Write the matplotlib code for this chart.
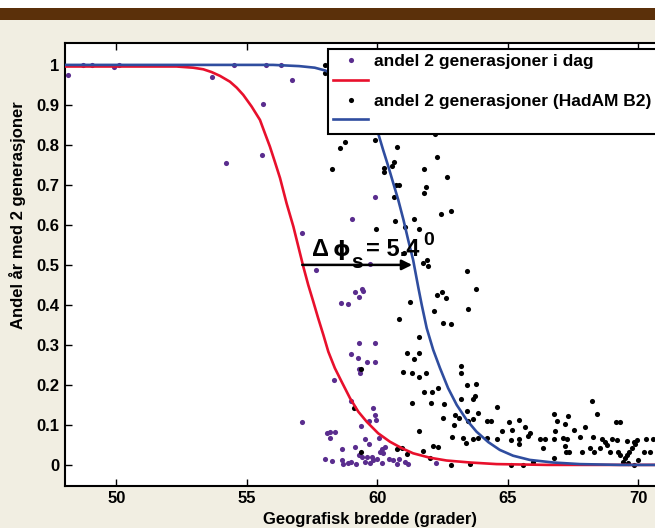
import matplotlib
matplotlib.use("Agg")
import matplotlib.pyplot as plt
from matplotlib.lines import Line2D
from matplotlib.patches import Rectangle

plt.rcParams['font.family'] = ['Liberation Sans', 'DejaVu Sans']
plt.rcParams['font.weight'] = 'bold'

# ---------------- data ----------------
today_x = [48.16, 48.72, 49.06, 49.92, 50.08, 53.66, 54.49, 54.18, 55.61, 55.57, 55.73, 56.30,
           56.74, 57.12, 57.64, 59.89, 59.02, 59.72, 59.41, 59.15, 59.43, 59.31, 58.61, 58.89,
           59.31, 59.89, 59.00, 59.24, 59.62, 59.92, 59.31, 59.34, 58.34, 59.00, 57.11, 59.85,
           59.89, 59.95, 59.66, 59.38, 58.07, 58.19, 58.38, 58.19, 59.51, 59.66, 60.06, 58.65,
           59.15, 60.17, 60.30, 60.11, 58.00, 58.28, 58.65, 58.69, 58.89, 59.00, 59.19, 59.28,
           59.41, 59.62, 59.79, 59.53, 59.70, 59.85, 59.98, 60.19, 60.23, 60.45, 60.59, 60.77,
           60.81, 61.07, 61.17, 62.24]
today_y = [0.976, 1.0, 1.0, 0.994, 1.0, 0.971, 1.0, 0.754, 0.9025, 0.775, 1.0, 1.0,
           0.963, 0.58, 0.488, 0.669, 0.615, 0.502, 0.439, 0.432, 0.436, 0.419, 0.406, 0.403,
           0.304, 0.304, 0.278, 0.267, 0.257, 0.257, 0.239, 0.231, 0.2125, 0.161, 0.108, 0.142,
           0.125, 0.113, 0.111, 0.0975, 0.079, 0.083, 0.083, 0.067, 0.065, 0.0525, 0.067, 0.041,
           0.045, 0.04, 0.045, 0.033, 0.015, 0.011, 0.013, 0.002, 0.004, 0.008, 0.0025, 0.025,
           0.021, 0.021, 0.021, 0.007, 0.004, 0.0125, 0.015, 0.004, 0.029, 0.015, 0.0125, 0.0025,
           0.015, 0.008, 0.0025, 0.006]

hadam_x = [58.00, 58.00, 58.77, 58.55, 58.26, 59.92, 60.75, 62.22, 62.28, 60.62, 60.56, 60.26,
           60.26, 61.77, 62.66, 60.72, 60.81, 61.86, 61.77, 60.62, 62.82, 62.43, 61.42, 60.69,
           59.93, 61.04, 61.58, 61.03, 61.73, 61.90, 61.94, 63.43, 63.79, 62.28, 62.49, 62.62,
           61.26, 62.18, 63.47, 60.81, 62.53, 62.82, 61.58, 61.14, 61.42, 61.58, 63.20, 63.20,
           61.00, 61.34, 61.86, 61.61, 59.37, 63.43, 63.77, 62.34, 61.77, 62.09, 63.75, 63.68,
           63.20, 61.31, 62.04, 62.57, 64.58, 59.11, 63.43, 63.85, 62.99, 62.53, 63.13, 63.49,
           64.22, 64.35, 63.68, 62.94, 65.06, 65.43, 66.77, 67.32, 68.24, 68.43, 66.90, 67.18,
           69.14, 69.30, 64.77, 65.15, 65.66, 65.83, 65.79, 66.81, 67.54, 67.96, 61.61, 62.85,
           63.30, 63.39, 63.66, 63.85, 64.20, 64.58, 65.12, 65.43, 65.44, 66.24, 66.43, 66.75,
           67.11, 67.26, 67.20, 66.36, 67.23, 67.36, 67.77, 67.86, 68.13, 68.28, 68.32, 68.54,
           68.61, 68.73, 68.80, 68.99, 68.92, 69.18, 69.24, 69.30, 69.56, 69.82, 69.94, 70.30,
           69.88, 69.75, 69.66, 69.56, 69.49, 69.43, 69.62, 70.00, 70.22, 70.45, 70.58, 69.82,
           59.38, 60.75, 60.94, 61.13, 61.73, 62.13, 62.32, 62.02, 62.82, 63.56, 65.12, 65.58,
           65.98, 66.75]
hadam_y = [1.0, 0.981, 0.808, 0.792, 0.74, 0.8125, 0.794, 0.827, 0.771, 0.758, 0.748, 0.743,
           0.7325, 0.74, 0.721, 0.70, 0.699, 0.696, 0.681, 0.669, 0.634, 0.6275, 0.616, 0.611,
           0.59, 0.594, 0.589, 0.529, 0.506, 0.5125, 0.498, 0.486, 0.44, 0.425, 0.432, 0.417,
           0.408, 0.385, 0.389, 0.366, 0.354, 0.352, 0.321, 0.281, 0.265, 0.279, 0.248, 0.229,
           0.233, 0.231, 0.229, 0.219, 0.24, 0.2, 0.202, 0.193, 0.183, 0.183, 0.1725, 0.165,
           0.165, 0.154, 0.154, 0.152, 0.144, 0.142, 0.135, 0.131, 0.125, 0.118, 0.118, 0.11,
           0.111, 0.111, 0.114, 0.1, 0.107, 0.112, 0.127, 0.123, 0.161, 0.128, 0.11, 0.102,
           0.108, 0.107, 0.086, 0.0875, 0.096, 0.081, 0.073, 0.086, 0.0875, 0.094, 0.086, 0.069,
           0.067, 0.054, 0.065, 0.067, 0.067, 0.065, 0.0625, 0.065, 0.052, 0.065, 0.065, 0.065,
           0.067, 0.065, 0.048, 0.042, 0.032, 0.032, 0.069, 0.032, 0.042, 0.071, 0.032, 0.043,
           0.064, 0.058, 0.05, 0.064, 0.033, 0.0625, 0.033, 0.025, 0.06, 0.058, 0.0625, 0.065,
           0.052, 0.042, 0.033, 0.025, 0.017, 0.008, 0.004, 0.0125, 0.033, 0.033, 0.065, 0.0,
           0.033, 0.04, 0.043, 0.027, 0.035, 0.048, 0.045, 0.017, 0.0, 0.0025, 0.0, 0.0,
           0.008, 0.018]

fit_today_x = [48.0, 52.3, 52.94, 53.33, 53.65, 53.97, 54.35, 54.61, 54.86, 55.18, 55.50, 55.69,
               55.88, 56.07, 56.27, 56.52, 56.78, 56.97, 57.16, 57.35, 57.54, 57.73, 57.93, 58.12,
               58.37, 58.63, 58.95, 59.27, 59.59, 60.03, 60.48, 60.93, 61.37, 62.01, 62.65, 63.55,
               64.57, 66.5, 72.0]
fit_today_y = [0.996, 0.996, 0.993, 0.989, 0.982, 0.9725, 0.958, 0.943, 0.925, 0.896, 0.8625, 0.829,
               0.796, 0.758, 0.717, 0.654, 0.596, 0.546, 0.496, 0.45, 0.409, 0.367, 0.325, 0.283,
               0.242, 0.208, 0.167, 0.133, 0.108, 0.079, 0.058, 0.042, 0.029, 0.018, 0.011, 0.006,
               0.002, 0.0, 0.0]

fit_hadam_x = [48.0, 56.0, 57.0, 57.6, 58.0, 58.6, 59.1, 59.6, 60.03, 60.22, 60.42, 60.61,
               60.80, 61.0, 61.18, 61.37, 61.57, 61.70, 61.89, 62.14, 62.40, 62.71, 63.04, 63.42,
               63.80, 64.25, 64.69, 65.20, 65.84, 66.74, 67.76, 69.3, 72.0]
fit_hadam_y = [1.0, 1.0, 0.997, 0.993, 0.986, 0.967, 0.94, 0.895, 0.829, 0.7875, 0.746, 0.704,
               0.6625, 0.6125, 0.5625, 0.5125, 0.443, 0.40, 0.342, 0.2875, 0.242, 0.192, 0.15, 0.1125,
               0.083, 0.057, 0.0375, 0.023, 0.0125, 0.006, 0.002, 0.0, 0.0]

x_ticks = [50, 55, 60, 65, 70]
y_ticks = [0, 0.1, 0.2, 0.3, 0.4, 0.5, 0.6, 0.7, 0.8, 0.9, 1.0]
y_ticklabels = ["0", "0.1", "0.2", "0.3", "0.4", "0.5", "0.6", "0.7", "0.8", "0.9", "1"]
legend_labels = ["andel 2 generasjoner i dag", "", "andel 2 generasjoner (HadAM B2)", ""]
shift_from, shift_to, shift_level = 57.12, 61.33, 0.5

# ---------------- style ----------------
W, H = 655, 528
bg = '#F1EEE2'
brown = '#5B300A'
purple = '#5A2D8E'
red = '#E8102C'
blue = '#2F4D9F'

fig = plt.figure(figsize=(W / 100, H / 100), dpi=100, facecolor=bg)
fig.patches.append(Rectangle((0, 1 - 8 / H), 1, 8 / H, transform=fig.transFigure,
                             facecolor='white', edgecolor='none', zorder=0))
fig.patches.append(Rectangle((0, 1 - 19.5 / H), 1, 11.5 / H, transform=fig.transFigure,
                             facecolor=brown, edgecolor='none', zorder=0))

left_px, right_px, top_px, bot_px = 65.3, 690.5, 43.3, 485.7
ax = fig.add_axes([left_px / W, 1 - bot_px / H, (right_px - left_px) / W, (bot_px - top_px) / H])
ax.set_facecolor('white')
ax.set_xlim(48.04, 72.0)
ax.set_ylim(-0.052, 1.054)

ms = 3.7
ax.plot(today_x, today_y, 'o', color=purple, ms=ms, mew=0, zorder=2)
ax.plot(hadam_x, hadam_y, 'o', color='black', ms=ms, mew=0, zorder=2)
ax.plot(fit_today_x, fit_today_y, '-', color=red, lw=1.9, zorder=3, solid_joinstyle='round')
ax.plot(fit_hadam_x, fit_hadam_y, '-', color=blue, lw=1.9, zorder=3, solid_joinstyle='round')

ax.annotate('', xy=(shift_to, shift_level), xytext=(shift_from, shift_level),
            arrowprops=dict(arrowstyle='-|>', color='black', lw=1.8, mutation_scale=15,
                            shrinkA=0, shrinkB=0), zorder=5)
# annotation text pieces: "Δ", "ϕ", subscript "s", "= 5.4", superscript "0"
ax.text(57.48, 0.5225, 'Δ', fontsize=17, fontweight='bold', va='baseline', ha='left', zorder=6)
ax.text(58.30, 0.5225, 'ϕ', fontsize=16, fontweight='bold', va='baseline', ha='left', zorder=6,
        family=['DejaVu Sans'])
ax.text(59.00, 0.4925, 's', fontsize=15, fontweight='bold', va='baseline', ha='left', zorder=6)
ax.text(59.58, 0.5225, '= 5.4', fontsize=17, fontweight='bold', va='baseline', ha='left', zorder=6)
ax.text(61.76, 0.55, '0', fontsize=14, fontweight='bold', va='baseline', ha='left', zorder=6)

ax.set_xticks(x_ticks)
ax.set_xticklabels([str(v) for v in x_ticks])
ax.set_yticks(y_ticks)
ax.set_yticklabels(y_ticklabels)
ax.tick_params(direction='in', length=5, width=1, top=True, right=True,
               labelsize=12, pad=4)
for lab in ax.get_xticklabels() + ax.get_yticklabels():
    lab.set_fontweight('bold')
for s in ax.spines.values():
    s.set_linewidth(1.5)

ax.set_xlabel('Geografisk bredde (grader)', fontsize=12, fontweight='bold')
ax.set_ylabel('Andel år med 2 generasjoner', fontsize=12, fontweight='bold')
ax.xaxis.set_label_coords(370 / W, 1 - 512 / H, transform=fig.transFigure)
ax.yaxis.set_label_coords(26 / W, 1 - 215 / H, transform=fig.transFigure)

handles = [Line2D([], [], marker='o', ls='none', color=purple, ms=ms, mew=0),
           Line2D([], [], color=red, lw=1.9),
           Line2D([], [], marker='o', ls='none', color='black', ms=ms, mew=0),
           Line2D([], [], color=blue, lw=1.9)]
leg = ax.legend(handles, legend_labels, loc='upper left',
                bbox_to_anchor=(328 / W, 1 - 49 / H), bbox_transform=fig.transFigure,
                borderaxespad=0, fancybox=False, framealpha=1, edgecolor='black',
                prop={'weight': 'bold', 'size': 12.5}, labelspacing=0.26,
                handlelength=2.0, handletextpad=0.35, borderpad=0.3, numpoints=1)
leg.get_frame().set_linewidth(1.5)
leg.set_zorder(10)

fig.savefig('out.png', dpi=100, facecolor=bg)
